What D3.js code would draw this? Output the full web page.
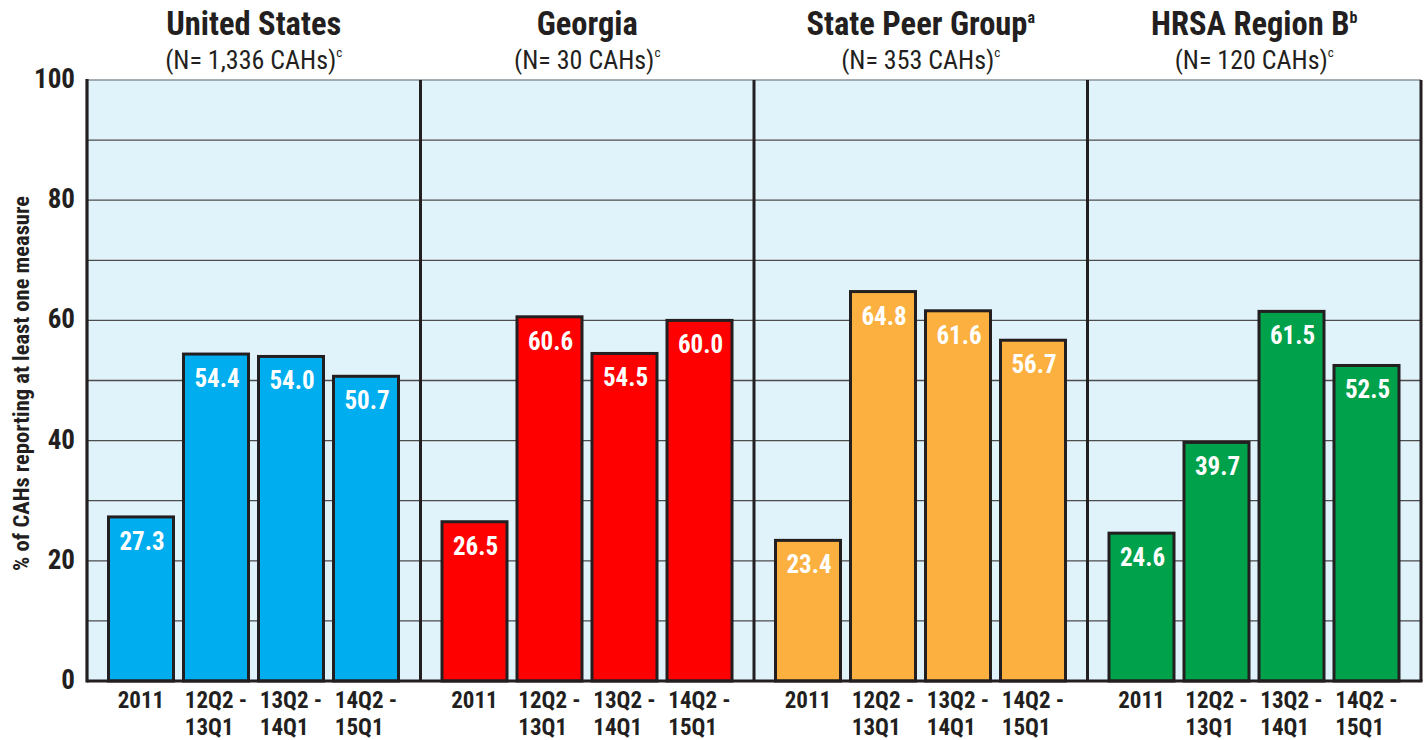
<!DOCTYPE html>
<html>
<head>
<meta charset="utf-8">
<script src="https://cdn.jsdelivr.net/npm/d3@7"></script>
<style>
  html, body { margin: 0; padding: 0; background: #fff; }
  svg { display: block; }
  text { font-family: "Liberation Sans Narrow", "Roboto Condensed", "DejaVu Sans Condensed", "Liberation Sans", sans-serif; font-stretch: condensed; }
</style>
</head>
<body>
<svg id="chart" width="1426" height="740"></svg>
<script>
// ---- data ----
const groups = ["United States", "Georgia", "State Peer Group", "HRSA Region B"];
const groupSup = ["", "", "a", "b"];
const groupN = ["(N= 1,336 CAHs)", "(N= 30 CAHs)", "(N= 353 CAHs)", "(N= 120 CAHs)"];
const periods = ["2011", "12Q2 - 13Q1", "13Q2 - 14Q1", "14Q2 - 15Q1"];
const periodLine1 = ["2011", "12Q2 -", "13Q2 -", "14Q2 -"];
const periodLine2 = ["", "13Q1", "14Q1", "15Q1"];
const usValues = [27.3, 54.4, 54.0, 50.7];
const gaValues = [26.5, 60.6, 54.5, 60.0];
const peerValues = [23.4, 64.8, 61.6, 56.7];
const hrsaValues = [24.6, 39.7, 61.5, 52.5];
const seriesValues = [usValues, gaValues, peerValues, hrsaValues];
const groupColors = ["#00AEEF", "#FF0000", "#FBB040", "#00A14B"];
const yTicks = [0, 20, 40, 60, 80, 100];
const gridValues = [10, 20, 30, 40, 50, 60, 70, 80, 90];
const yTitle = "% of CAHs reporting at least one measure";

// ---- layout ----
const svg = d3.select("#chart");
const pLeft = 87, pRight = 1421, pTop = 80, pBottom = 681;
const dark = "#231f20";

const x0 = d3.scaleBand().domain(groups).range([pLeft, pRight]).padding(0);
const pw = x0.bandwidth();
const x1 = d3.scaleBand().domain(periods).range([21.5, 311.5]).paddingInner(10 / 75).paddingOuter(0);
const y = d3.scaleLinear().domain([0, 100]).range([pBottom, pTop]);

// background
svg.append("rect").attr("x", pLeft).attr("y", pTop)
  .attr("width", pRight - pLeft).attr("height", pBottom - pTop)
  .attr("fill", "#E1F3FA");

// gridlines
svg.append("g").selectAll("line").data(gridValues).join("line")
  .attr("x1", pLeft).attr("x2", pRight)
  .attr("y1", d => y(d)).attr("y2", d => y(d))
  .attr("stroke", "#4d4d4d").attr("stroke-width", 1.3);
svg.append("line").attr("x1", pLeft).attr("x2", pRight)
  .attr("y1", y(100)).attr("y2", y(100))
  .attr("stroke", "#8a9399").attr("stroke-width", 1.5);

// bars
const gGroups = svg.append("g").selectAll("g").data(groups).join("g")
  .attr("transform", d => `translate(${x0(d)},0)`);

gGroups.each(function(gname, gi) {
  const g = d3.select(this);
  const vals = seriesValues[gi];
  g.selectAll("rect.bar").data(vals).join("rect")
    .attr("class", "bar")
    .attr("x", (d, i) => x1(periods[i]))
    .attr("width", x1.bandwidth())
    .attr("y", d => y(d))
    .attr("height", d => y(0) - y(d))
    .attr("fill", groupColors[gi])
    .attr("stroke", dark).attr("stroke-width", 3);
  g.selectAll("text.val").data(vals).join("text")
    .attr("class", "val")
    .attr("x", (d, i) => x1(periods[i]) + x1.bandwidth() / 2 + 1)
    .attr("y", d => y(d) + 33)
    .attr("text-anchor", "middle")
    .attr("fill", "#fff")
    .attr("font-size", 25).attr("font-weight", "bold")
    .text(d => d.toFixed(1));
});

// panel separators and frame
const seps = groups.slice(1).map(g => x0(g));
svg.append("g").selectAll("line").data(seps).join("line")
  .attr("x1", d => d).attr("x2", d => d)
  .attr("y1", pTop).attr("y2", pBottom)
  .attr("stroke", dark).attr("stroke-width", 3);
svg.append("line").attr("x1", pRight).attr("x2", pRight).attr("y1", pTop).attr("y2", pBottom)
  .attr("stroke", dark).attr("stroke-width", 3);
svg.append("line").attr("x1", pLeft).attr("x2", pLeft).attr("y1", pTop - 1).attr("y2", pBottom + 1.5)
  .attr("stroke", dark).attr("stroke-width", 3.2);
svg.append("line").attr("x1", pLeft).attr("x2", pRight + 1.5).attr("y1", pBottom).attr("y2", pBottom)
  .attr("stroke", dark).attr("stroke-width", 3.2);

// y tick labels
svg.append("g").selectAll("text").data(yTicks).join("text")
  .attr("x", 75).attr("y", d => y(d) + 8)
  .attr("text-anchor", "end")
  .attr("font-size", 27).attr("font-weight", "bold").attr("fill", dark)
  .text(d => d);

// y title
svg.append("text")
  .attr("transform", `translate(29,${(pTop + pBottom) / 2 + 3}) rotate(-90)`)
  .attr("text-anchor", "middle")
  .attr("font-size", 22.5).attr("font-weight", "bold").attr("fill", dark)
  .text(yTitle);

// group titles
groups.forEach((gname, gi) => {
  const cx = x0(gname) + pw / 2;
  const t = svg.append("text").attr("x", cx).attr("y", 35)
    .attr("text-anchor", "middle").attr("font-size", 32.5).attr("font-weight", "bold").attr("fill", dark);
  t.append("tspan").text(gname);
  if (groupSup[gi]) t.append("tspan").attr("font-size", 16).attr("dy", -12).text(groupSup[gi]);
  const s = svg.append("text").attr("x", cx).attr("y", 69)
    .attr("text-anchor", "middle").attr("font-size", 26).attr("fill", dark);
  s.append("tspan").text(groupN[gi]);
  s.append("tspan").attr("font-size", 13).attr("dy", -12).text("c");
});

// x labels
groups.forEach((gname, gi) => {
  periods.forEach((p, i) => {
    const cx = x0(gname) + x1(p) + x1.bandwidth() / 2;
    const t1 = svg.append("text").attr("x", cx).attr("y", 708)
      .attr("text-anchor", "middle").attr("font-size", 23).attr("font-weight", "bold").attr("fill", dark)
      .text(periodLine1[i]);
    if (periodLine2[i]) {
      const w = t1.node().getComputedTextLength();
      svg.append("text").attr("x", cx - w / 2).attr("y", 735)
        .attr("text-anchor", "start").attr("font-size", 23).attr("font-weight", "bold").attr("fill", dark)
        .text(periodLine2[i]);
    }
  });
});
</script>
</body>
</html>
